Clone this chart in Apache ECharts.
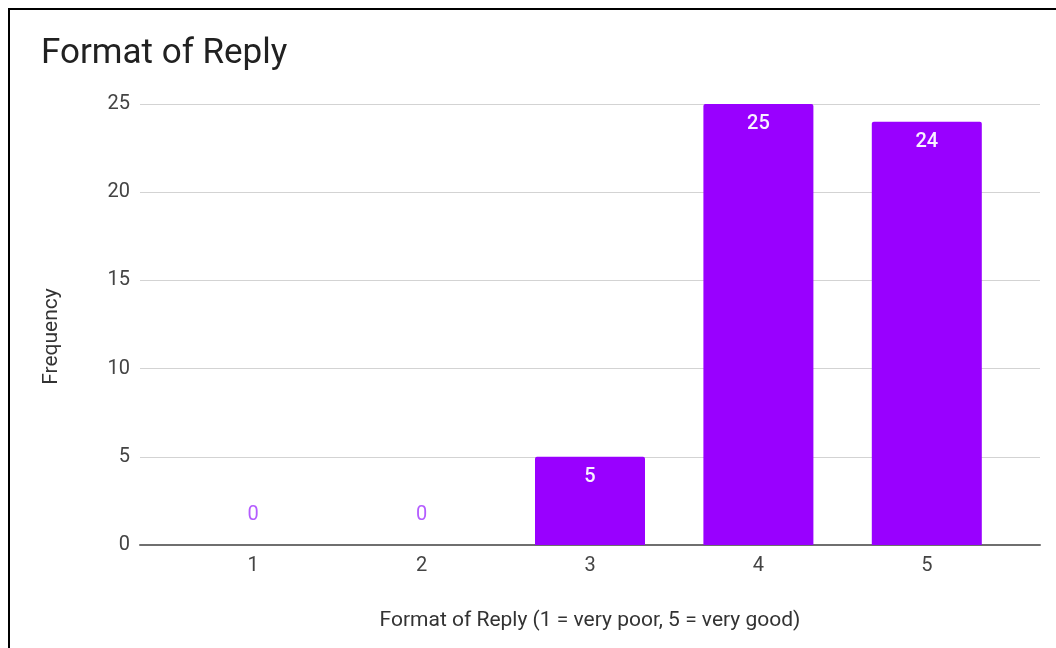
<!DOCTYPE html>
<html>
<head>
<meta charset="utf-8">
<script src="https://cdn.jsdelivr.net/npm/echarts@6/dist/echarts.min.js"></script>
<style>
  html, body { margin: 0; padding: 0; background: #fff; }
  #chart { width: 1056px; height: 648px; }
</style>
</head>
<body>
<div id="chart"></div>
<script>
// Rating scale and how many responses each rating received
const ratings = ['1', '2', '3', '4', '5'];
const frequency = [0, 0, 5, 25, 24];

const chartTitle = 'Format of Reply';
const xAxisTitle = 'Format of Reply (1 = very poor, 5 = very good)';
const yAxisTitle = 'Frequency';

const BAR = '#9900ff';
const FONT = 'Roboto, "Noto Sans", sans-serif';

// Zero-height bars get their label above the baseline in the bar colour,
// the others carry a white label just inside the top edge.
const barData = frequency.map(v => ({
  value: v,
  label: v === 0
    ? { position: 'top', distance: 20, color: '#b45cff', fontWeight: 'normal' }
    : { position: 'insideTop', distance: 10, color: '#f8f0ff', fontWeight: 500 }
}));

const chart = echarts.init(document.getElementById('chart'), null, { renderer: 'canvas' });
chart.setOption({
  animation: false,
  backgroundColor: '#ffffff',
  textStyle: { fontFamily: FONT },
  title: {
    text: chartTitle,
    left: 36, top: 32,
    textStyle: { fontFamily: FONT, fontSize: 35, fontWeight: 'normal', color: '#212121' }
  },
  graphic: [{
    type: 'rect',
    shape: { x: 9, y: 9, width: 1100, height: 700 },
    style: { fill: 'none', stroke: '#000', lineWidth: 2 },
    silent: true
  }],
  grid: [
    // full-width frame for the value axis and its gridlines
    { left: 140, right: 16, top: 104, bottom: 103 },
    // inset band where the rating categories sit
    { left: 169, right: 45, top: 104, bottom: 103 }
  ],
  xAxis: [
    {
      gridIndex: 0, type: 'value', min: 0, max: 1,
      axisLine: { show: true, onZero: false, lineStyle: { color: '#6f6f6f', width: 2 } },
      axisTick: { show: false }, axisLabel: { show: false }, splitLine: { show: false },
      name: xAxisTitle, nameLocation: 'middle', nameGap: 65,
      nameTextStyle: { fontFamily: FONT, fontSize: 21, color: '#333' }
    },
    {
      gridIndex: 1, type: 'category', data: ratings,
      axisLine: { show: false }, axisTick: { show: false },
      axisLabel: { fontFamily: FONT, fontSize: 20, color: '#444', margin: 11 }
    }
  ],
  yAxis: [
    {
      gridIndex: 0, type: 'value', min: 0, max: 25, interval: 5,
      axisLine: { show: false }, axisTick: { show: false },
      axisLabel: { fontFamily: FONT, fontSize: 20, color: '#444', margin: 10 },
      splitLine: { lineStyle: { color: '#d3d3d3', width: 1 } },
      name: yAxisTitle, nameLocation: 'middle', nameGap: 78, nameRotate: 90,
      nameTextStyle: { fontFamily: FONT, fontSize: 21, color: '#333', padding: [0, 24, 0, 0] }
    },
    {
      gridIndex: 1, type: 'value', min: 0, max: 25, interval: 5, show: false
    }
  ],
  series: [{
    type: 'bar',
    xAxisIndex: 1, yAxisIndex: 1,
    data: barData,
    barWidth: 110,
    itemStyle: { color: BAR, borderRadius: [2, 2, 0, 0] },
    label: { show: true, fontFamily: FONT, fontSize: 20 },
    z: 3
  }]
});
</script>
</body>
</html>
